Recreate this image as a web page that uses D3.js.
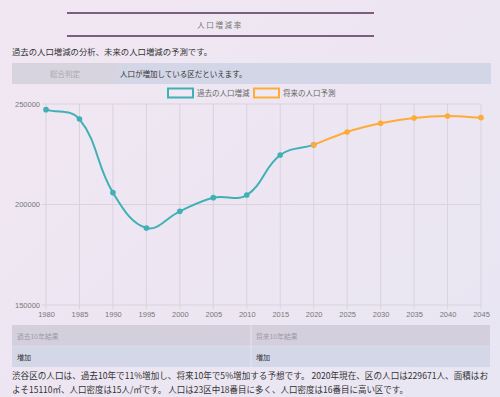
<!DOCTYPE html>
<html>
<head>
<meta charset="utf-8">
<script src="https://cdn.jsdelivr.net/npm/d3@7"></script>
<style>
  html, body { margin: 0; padding: 0; }
  body { width: 500px; height: 397px; overflow: hidden;
    background: linear-gradient(135deg, #f1e7f2 0%, #ece6f2 60%, #e8e6f3 100%);
    font-family: "Noto Sans CJK JP", "Noto Sans", sans-serif; }
  svg { display: block; }
</style>
</head>
<body>
<svg id="chart" width="500" height="397"></svg>
<script>
// years on the x axis
const years = [1980, 1985, 1990, 1995, 2000, 2005, 2010, 2015, 2020, 2025, 2030, 2035, 2040, 2045];
// past population (null = no value)
const pastValues = [247200, 242500, 205900, 188300, 196600, 203400, 204700, 224600, 229671, null, null, null, null, null];
// forecast population
const futureValues = [null, null, null, null, null, null, null, null, 229671, 236100, 240400, 243000, 244000, 243200];
const yTicks = [150000, 200000, 250000];
const seriesNames = ['過去の人口増減', '将来の人口予測'];
const seriesColors = ['#3fb1b5', '#ffab38'];

const svg = d3.select('#chart');
const numFont = '"Liberation Sans", Arial, sans-serif';

// title block
svg.append('line').attr('x1', 67).attr('x2', 374).attr('y1', 13).attr('y2', 13)
  .attr('stroke', '#7d5e80').attr('stroke-width', 2);
svg.append('line').attr('x1', 67).attr('x2', 374).attr('y1', 36).attr('y2', 36)
  .attr('stroke', '#7d5e80').attr('stroke-width', 2);
svg.append('text').attr('x', 220).attr('y', 28).attr('text-anchor', 'middle')
  .attr('font-size', 7.5).attr('letter-spacing', 1.6).attr('fill', '#777').text('人口増減率');

svg.append('text').attr('x', 12).attr('y', 55).attr('font-size', 8.4).attr('fill', '#333')
  .text('過去の人口増減の分析、未来の人口増減の予測です。');

// top summary row
svg.append('rect').attr('x', 12).attr('y', 63).attr('width', 106).attr('height', 21).attr('fill', '#d7d3df');
svg.append('rect').attr('x', 118).attr('y', 63).attr('width', 373).attr('height', 21).attr('fill', '#d3d6e6');
svg.append('text').attr('x', 65).attr('y', 76.5).attr('text-anchor', 'middle')
  .attr('font-size', 7.5).attr('fill', '#aaa').text('総合判定');
svg.append('text').attr('x', 120).attr('y', 76.5).attr('font-size', 7.5).attr('fill', '#333')
  .text('人口が増加している区だといえます。');

// legend
const legendX = [168, 254];
seriesNames.forEach((name, i) => {
  svg.append('rect').attr('x', legendX[i]).attr('y', 88.5).attr('width', 25).attr('height', 9)
    .attr('fill', 'rgba(255,255,255,0.15)').attr('stroke', seriesColors[i]).attr('stroke-width', 2);
  svg.append('text').attr('x', legendX[i] + 29).attr('y', 96).attr('font-size', 7.5)
    .attr('fill', '#666').text(name);
});

// scales
const x = d3.scaleLinear().domain([1980, 2045]).range([46, 481]);
const y = d3.scaleLinear().domain([150000, 250000]).range([305, 104]);

// grid
const grid = svg.append('g');
grid.selectAll('line.v').data(years).join('line')
  .attr('x1', d => x(d)).attr('x2', d => x(d)).attr('y1', y(250000)).attr('y2', y(150000) + 4)
  .attr('stroke', '#d9d3de').attr('stroke-width', 1);
grid.selectAll('line.h').data(yTicks).join('line')
  .attr('x1', x(1980) - 4).attr('x2', x(2045)).attr('y1', d => y(d)).attr('y2', d => y(d))
  .attr('stroke', '#d9d3de').attr('stroke-width', 1);

// axes labels
const yAxis = d3.axisLeft(y).tickValues(yTicks).tickSize(0).tickPadding(6).tickFormat(d3.format('d'));
svg.append('g').attr('transform', `translate(${x(1980)},0)`).call(yAxis)
  .call(g => g.select('.domain').remove())
  .selectAll('text').attr('font-size', 7.5).attr('fill', '#777').attr('font-family', numFont);
const xAxis = d3.axisBottom(x).tickValues(years).tickSize(0).tickPadding(7).tickFormat(d3.format('d'));
svg.append('g').attr('transform', `translate(0,${y(150000)})`).call(xAxis)
  .call(g => g.select('.domain').remove())
  .selectAll('text').attr('font-size', 7.5).attr('fill', '#777').attr('font-family', numFont);

// spline through pixel points, tension 0.4 (Chart.js style)
function splinePath(pts, t) {
  const cps = pts.map((cur, i) => {
    const prev = pts[i - 1] || cur, next = pts[i + 1] || cur;
    const d01 = Math.hypot(cur[0] - prev[0], cur[1] - prev[1]);
    const d12 = Math.hypot(next[0] - cur[0], next[1] - cur[1]);
    let s01 = d01 / (d01 + d12), s12 = d12 / (d01 + d12);
    if (isNaN(s01)) s01 = 0;
    if (isNaN(s12)) s12 = 0;
    const fa = t * s01, fb = t * s12;
    return {
      prev: [cur[0] - fa * (next[0] - prev[0]), cur[1] - fa * (next[1] - prev[1])],
      next: [cur[0] + fb * (next[0] - prev[0]), cur[1] + fb * (next[1] - prev[1])]
    };
  });
  const p = d3.path();
  pts.forEach((pt, i) => {
    if (i === 0) p.moveTo(pt[0], pt[1]);
    else p.bezierCurveTo(cps[i - 1].next[0], cps[i - 1].next[1], cps[i].prev[0], cps[i].prev[1], pt[0], pt[1]);
  });
  return p.toString();
}

[pastValues, futureValues].forEach((vals, i) => {
  const pts = years.map((yr, j) => [yr, vals[j]]).filter(d => d[1] !== null)
    .map(d => [x(d[0]), y(d[1])]);
  svg.append('path').attr('d', splinePath(pts, 0.4))
    .attr('fill', 'none').attr('stroke', seriesColors[i]).attr('stroke-width', 2);
});
[pastValues, futureValues].forEach((vals, i) => {
  const pts = years.map((yr, j) => [yr, vals[j]]).filter(d => d[1] !== null);
  svg.append('g').selectAll('circle').data(pts).join('circle')
    .attr('cx', d => x(d[0])).attr('cy', d => y(d[1])).attr('r', 2.8)
    .attr('fill', seriesColors[i]);
});

// bottom tables
const tables = [{x: 12, head: '過去10年結果', val: '増加'}, {x: 251, head: '将来10年結果', val: '増加'}];
tables.forEach(t => {
  svg.append('rect').attr('x', t.x).attr('y', 325).attr('width', 239).attr('height', 21).attr('fill', '#d3cfdd');
  svg.append('rect').attr('x', t.x).attr('y', 346).attr('width', 239).attr('height', 21).attr('fill', '#d3d7e7');
  svg.append('text').attr('x', t.x + 5).attr('y', 338.5).attr('font-size', 6.8).attr('fill', '#a09aa8').text(t.head);
  svg.append('text').attr('x', t.x + 5).attr('y', 359.5).attr('font-size', 7).attr('fill', '#333').text(t.val);
});
svg.append('line').attr('x1', 251).attr('x2', 251).attr('y1', 325).attr('y2', 367)
  .attr('stroke', '#e8e4ee').attr('stroke-width', 1);
svg.append('line').attr('x1', 12).attr('x2', 490).attr('y1', 346).attr('y2', 346)
  .attr('stroke', '#e3dfea').attr('stroke-width', 0.6);

const bodyLines = [
  '渋谷区の人口は、過去10年で11%増加し、将来10年で5%増加する予想です。 2020年現在、区の人口は229671人、面積はお',
  'よそ15110㎡、人口密度は15人/㎡です。 人口は23区中18番目に多く、人口密度は16番目に高い区です。'
];
const bodyWidths = [476, 396];
bodyLines.forEach((l, i) => {
  svg.append('text').attr('x', 12).attr('y', 379 + i * 13.5).attr('font-size', 8.6)
    .attr('textLength', bodyWidths[i]).attr('lengthAdjust', 'spacingAndGlyphs')
    .attr('fill', '#333').text(l);
});
</script>
</body>
</html>
